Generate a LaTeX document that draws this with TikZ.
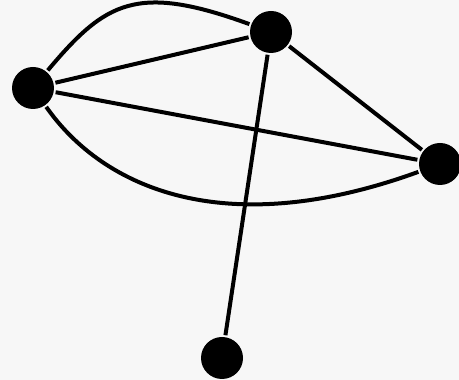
\documentclass[tikz,border=0pt]{standalone}
\usepackage{tikz}
\usetikzlibrary{positioning}
\definecolor{bggray}{RGB}{247,247,247}

\begin{document}
\begin{tikzpicture}[
line width=0.08cm, main node/.style={circle, fill=black, inner sep=0pt, minimum size=0.84cm}
	]
	\useasboundingbox (0,0) rectangle (9.18,7.6);
	\fill[bggray] (0,0) rectangle (9.18,7.6);
	% Nodes
	\node[main node] (L) at (0.66,5.84) {};
	\node[main node] (T) at (5.42,6.96) {};
	\node[main node] (R) at (8.8,4.32) {};
	\node[main node] (D) at (4.44,0.44) {};
	% Edges
	\path
	(L) edge (T)
	(L) edge (R)
	(T) edge (R)
	(T) edge (D)
	(L) edge[out=50,in=160,out distance=1.8cm,in distance=2.4cm] (T)
	(L) edge[out=-55,in=200,out distance=2cm,in distance=4.1cm] (R);
\end{tikzpicture}
\end{document}
